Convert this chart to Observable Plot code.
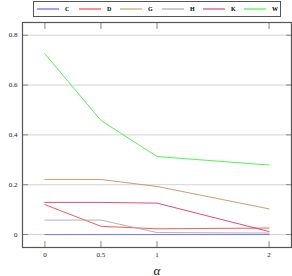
<!DOCTYPE html>
<html>
<head>
<meta charset="utf-8">
<script src="https://cdn.jsdelivr.net/npm/d3@7"></script>
<script src="https://cdn.jsdelivr.net/npm/@observablehq/plot@0.6"></script>
<style>
  body { margin: 0; background: #fff; }
  #wrap { position: relative; width: 292px; height: 276px; }
  #legend { position: absolute; left: 33px; top: 1px; width: 246px; height: 14px; border: 1px solid #555; background: #fff;
    font-family: "Liberation Serif", serif; font-size: 6px; }
  .item { position: absolute; top: 0; height: 14px; }
  .sw { position: absolute; top: 6px; width: 22px; height: 2px; }
  .lb { position: absolute; top: 3px; left: 28px; line-height: 8px; font-weight: bold; }
</style>
</head>
<body>
<div id="wrap"><div id="legend"></div></div>
<script>
const alpha = [0, 0.5, 1, 2];
const seriesNames = ["C", "D", "G", "H", "K", "W"];
const C = [0, 0, 0, 0];
const D = [0.12, 0.033, 0.023, 0.026];
const G = [0.221, 0.221, 0.193, 0.103];
const H = [0.058, 0.058, 0.008, 0.006];
const K = [0.129, 0.129, 0.126, 0.012];
const W = [0.725, 0.458, 0.313, 0.279];
const colors = ["#6e6eff", "#ff4545", "#c8915a", "#aaaaaa", "#d23c6c", "#3ef03e"];
const legendColors = ["#a0a0ff", "#ff9090", "#e6c6a6", "#cccccc", "#e890b0", "#90f890"];
const yTicks = [0, 0.2, 0.4, 0.6, 0.8];
const xTicks = [0, 0.5, 1, 2];

const values = [C, D, G, H, K, W];
const data = [];
seriesNames.forEach((s, i) => alpha.forEach((a, j) => data.push({series: s, alpha: a, value: values[i][j]})));

const font = "Liberation Serif, serif";
const chart = Plot.plot({
  width: 292,
  height: 276,
  marginLeft: 22,
  marginRight: 1,
  marginTop: 22,
  marginBottom: 29,
  style: {fontFamily: font, fontSize: "7px", background: "#fff"},
  x: {domain: [-0.2, 2.2], label: null},
  y: {domain: [-0.052, 0.851], label: null},
  color: {domain: seriesNames, range: colors},
  marks: [
    Plot.gridY(yTicks, {stroke: "#c8c8c8", strokeOpacity: 1, strokeWidth: 0.8}),
    Plot.line(data, {x: "alpha", y: "value", z: "series", stroke: "series", strokeWidth: 0.9}),
    Plot.axisX(xTicks, {anchor: "bottom", tickSize: -6, stroke: "#888", text: null}),
    Plot.axisX(xTicks, {anchor: "top", tickSize: -6, stroke: "#888", text: null}),
    Plot.axisY(yTicks, {anchor: "left", tickSize: -6, stroke: "#888", text: null}),
    Plot.axisY(yTicks, {anchor: "right", tickSize: -6, stroke: "#888", text: null}),
    Plot.axisX(xTicks, {anchor: "bottom", tickSize: 0, tickPadding: 5, label: null, tickFormat: d => String(d), fill: "#222"}),
    Plot.axisY(yTicks, {anchor: "left", tickSize: 0, tickPadding: 5, label: null, tickFormat: d => String(d), fill: "#222"}),
    Plot.frame({stroke: "#555", strokeWidth: 1.2}),
    Plot.text(["α"], {frameAnchor: "bottom", lineAnchor: "bottom", dy: 27, fontSize: 13, fontStyle: "italic", fill: "#111"})
  ]
});
document.getElementById("wrap").prepend(chart);
chart.style.display = "block";

const legend = document.getElementById("legend");
const lefts = [3, 45, 86, 128, 169, 210];
seriesNames.forEach((s, i) => {
  const it = document.createElement("div");
  it.className = "item";
  it.style.left = lefts[i] + "px";
  it.innerHTML = `<div class="sw" style="background:${legendColors[i]}"></div><div class="lb">${s}</div>`;
  legend.appendChild(it);
});
</script>
</body>
</html>
